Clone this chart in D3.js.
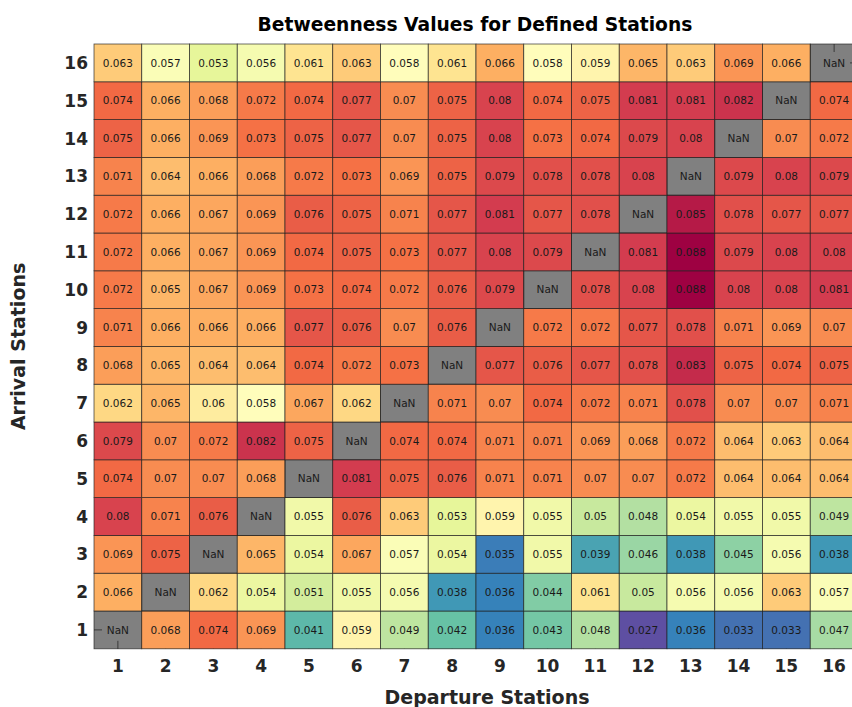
<!DOCTYPE html>
<html>
<head>
<meta charset="utf-8">
<script src="https://cdn.jsdelivr.net/npm/d3@7"></script>
<style>
  body { margin: 0; background: #fff; }
  text { font-family: "DejaVu Sans", sans-serif; }
</style>
</head>
<body>
<div id="chart"></div>
<script>
// station ids (departure along x, arrival along y)
var departures = d3.range(1, 17);
var arrivals = d3.range(1, 17);

// betweenness values, one row per arrival station (row i = arrival i+1), null = NaN
var arr1  = [null, 0.068, 0.074, 0.069, 0.041, 0.059, 0.049, 0.042, 0.036, 0.043, 0.048, 0.027, 0.036, 0.033, 0.033, 0.047];
var arr2  = [0.066, null, 0.062, 0.054, 0.051, 0.055, 0.056, 0.038, 0.036, 0.044, 0.061, 0.05, 0.056, 0.056, 0.063, 0.057];
var arr3  = [0.069, 0.075, null, 0.065, 0.054, 0.067, 0.057, 0.054, 0.035, 0.055, 0.039, 0.046, 0.038, 0.045, 0.056, 0.038];
var arr4  = [0.08, 0.071, 0.076, null, 0.055, 0.076, 0.063, 0.053, 0.059, 0.055, 0.05, 0.048, 0.054, 0.055, 0.055, 0.049];
var arr5  = [0.074, 0.07, 0.07, 0.068, null, 0.081, 0.075, 0.076, 0.071, 0.071, 0.07, 0.07, 0.072, 0.064, 0.064, 0.064];
var arr6  = [0.079, 0.07, 0.072, 0.082, 0.075, null, 0.074, 0.074, 0.071, 0.071, 0.069, 0.068, 0.072, 0.064, 0.063, 0.064];
var arr7  = [0.062, 0.065, 0.06, 0.058, 0.067, 0.062, null, 0.071, 0.07, 0.074, 0.072, 0.071, 0.078, 0.07, 0.07, 0.071];
var arr8  = [0.068, 0.065, 0.064, 0.064, 0.074, 0.072, 0.073, null, 0.077, 0.076, 0.077, 0.078, 0.083, 0.075, 0.074, 0.075];
var arr9  = [0.071, 0.066, 0.066, 0.066, 0.077, 0.076, 0.07, 0.076, null, 0.072, 0.072, 0.077, 0.078, 0.071, 0.069, 0.07];
var arr10 = [0.072, 0.065, 0.067, 0.069, 0.073, 0.074, 0.072, 0.076, 0.079, null, 0.078, 0.08, 0.088, 0.08, 0.08, 0.081];
var arr11 = [0.072, 0.066, 0.067, 0.069, 0.074, 0.075, 0.073, 0.077, 0.08, 0.079, null, 0.081, 0.088, 0.079, 0.08, 0.08];
var arr12 = [0.072, 0.066, 0.067, 0.069, 0.076, 0.075, 0.071, 0.077, 0.081, 0.077, 0.078, null, 0.085, 0.078, 0.077, 0.077];
var arr13 = [0.071, 0.064, 0.066, 0.068, 0.072, 0.073, 0.069, 0.075, 0.079, 0.078, 0.078, 0.08, null, 0.079, 0.08, 0.079];
var arr14 = [0.075, 0.066, 0.069, 0.073, 0.075, 0.077, 0.07, 0.075, 0.08, 0.073, 0.074, 0.079, 0.08, null, 0.07, 0.072];
var arr15 = [0.074, 0.066, 0.068, 0.072, 0.074, 0.077, 0.07, 0.075, 0.08, 0.074, 0.075, 0.081, 0.081, 0.082, null, 0.074];
var arr16 = [0.063, 0.057, 0.053, 0.056, 0.061, 0.063, 0.058, 0.061, 0.066, 0.058, 0.059, 0.065, 0.063, 0.069, 0.066, null];

var rows = [arr1, arr2, arr3, arr4, arr5, arr6, arr7, arr8, arr9, arr10, arr11, arr12, arr13, arr14, arr15, arr16];

// setup canvas parameter
var width = 852, height = 707;
var gridLeft = 94, gridTop = 44, cellW = 47.75, cellH = 37.8;

var svg = d3.select('#chart')
    .append('svg')
    .attr('width', width)
    .attr('height', height);

var cells = [];
rows.forEach(function(r, i){
    r.forEach(function(v, j){
        cells.push({arr: arrivals[i], dep: departures[j], value: v});
    });
});

var xScale = d3.scaleBand()
    .domain(departures)
    .range([gridLeft, gridLeft + cellW * departures.length]);

var yScale = d3.scaleBand()
    .domain(arrivals.slice().reverse())
    .range([gridTop, gridTop + cellH * arrivals.length]);

// colour norm: value -> position along Spectral_r (0..1), piecewise
var normScale = d3.scaleLinear()
    .domain([0.027, 0.036, 0.057, 0.064, 0.088])
    .range([0, 0.09, 0.48, 0.67, 1])
    .clamp(true);

// Spectral_r, linear between the 11 brewer stops like matplotlib
var stops = d3.schemeSpectral[11].slice().reverse();
var cmap = d3.scaleLinear()
    .domain(stops.map(function(s, i){ return i / (stops.length - 1); }))
    .range(stops)
    .interpolate(d3.interpolateRgb);

function colour(v){ return cmap(normScale(v)); }

var gridW = cellW * departures.length, gridH = cellH * arrivals.length;

// axes background shows through the masked (NaN) cells
svg.append('rect')
    .attr('x', gridLeft).attr('y', gridTop)
    .attr('width', gridW).attr('height', gridH)
    .attr('fill', '#808080');

// inward ticks, only visible on the gray background
var tickG = svg.append('g').attr('stroke', '#3a3a3a').attr('stroke-width', 1);
departures.forEach(function(d){
    var x = xScale(d) + xScale.bandwidth() / 2;
    tickG.append('line').attr('x1', x).attr('x2', x).attr('y1', gridTop + gridH).attr('y2', gridTop + gridH - 8);
    tickG.append('line').attr('x1', x).attr('x2', x).attr('y1', gridTop).attr('y2', gridTop + 8);
});
arrivals.forEach(function(a){
    var y = yScale(a) + yScale.bandwidth() / 2;
    tickG.append('line').attr('x1', gridLeft).attr('x2', gridLeft + 8).attr('y1', y).attr('y2', y);
    tickG.append('line').attr('x1', gridLeft + gridW).attr('x2', gridLeft + gridW - 8).attr('y1', y).attr('y2', y);
});

svg.selectAll('.cell')
    .data(cells)
    .enter()
    .append('rect')
    .attr('class', 'cell')
    .attr('x', function(d){ return xScale(d.dep); })
    .attr('y', function(d){ return yScale(d.arr); })
    .attr('width', xScale.bandwidth())
    .attr('height', yScale.bandwidth())
    .attr('fill', function(d){ return d.value == null ? 'none' : colour(d.value); })
    .attr('stroke', '#222')
    .attr('stroke-opacity', 0.8)
    .attr('stroke-width', 0.8);

svg.selectAll('.val')
    .data(cells)
    .enter()
    .append('text')
    .attr('class', 'val')
    .attr('x', function(d){ return xScale(d.dep) + xScale.bandwidth() / 2; })
    .attr('y', function(d){ return yScale(d.arr) + yScale.bandwidth() / 2; })
    .attr('dy', '0.35em')
    .attr('text-anchor', 'middle')
    .attr('font-size', '10.5px')
    .attr('fill', '#1a1a1a')
    .text(function(d){ return d.value == null ? 'NaN' : String(d.value); });

// tick labels
svg.append('g')
    .selectAll('text')
    .data(departures)
    .enter()
    .append('text')
    .attr('x', function(d){ return xScale(d) + xScale.bandwidth() / 2; })
    .attr('y', gridTop + gridH + 23)
    .attr('text-anchor', 'middle')
    .attr('font-size', '17px')
    .attr('font-weight', 'bold')
    .attr('fill', '#262626')
    .text(function(d){ return d; });

svg.append('g')
    .selectAll('text')
    .data(arrivals)
    .enter()
    .append('text')
    .attr('x', gridLeft - 6)
    .attr('y', function(d){ return yScale(d) + yScale.bandwidth() / 2; })
    .attr('dy', '0.36em')
    .attr('text-anchor', 'end')
    .attr('font-size', '17px')
    .attr('font-weight', 'bold')
    .attr('fill', '#262626')
    .text(function(d){ return d; });

// titles
svg.append('text')
    .attr('x', gridLeft + 381)
    .attr('y', 31)
    .attr('text-anchor', 'middle')
    .attr('font-size', '18.7px')
    .attr('font-weight', 'bold')
    .attr('fill', '#000')
    .text('Betweenness Values for Defined Stations');

svg.append('text')
    .attr('x', 487)
    .attr('y', 704)
    .attr('text-anchor', 'middle')
    .attr('font-size', '19px')
    .attr('font-weight', 'bold')
    .attr('fill', '#262626')
    .text('Departure Stations');

svg.append('text')
    .attr('transform', 'translate(25,' + (gridTop + gridH / 2) + ') rotate(-90)')
    .attr('text-anchor', 'middle')
    .attr('font-size', '19px')
    .attr('font-weight', 'bold')
    .attr('fill', '#262626')
    .text('Arrival Stations');
</script>
</body>
</html>
